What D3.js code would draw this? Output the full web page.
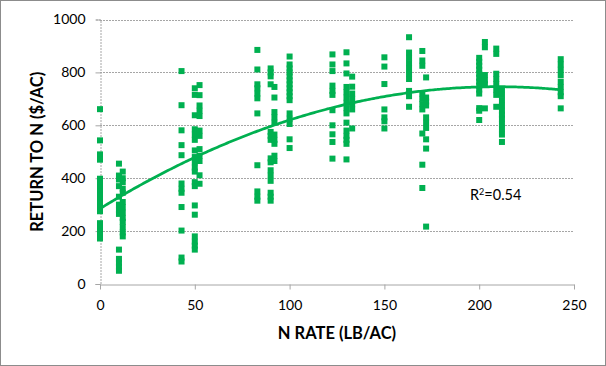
<!DOCTYPE html>
<html>
<head>
<meta charset="utf-8">
<script src="https://cdn.jsdelivr.net/npm/d3@7"></script>
<style>
  html, body { margin: 0; padding: 0; background: #fff; }
  svg { display: block; }
  text { font-family: Lato, "Open Sans", sans-serif; fill: #000; }
</style>
</head>
<body>
<svg id="chart" width="606" height="366"></svg>
<script>
// ---- Data ----
// N rate (lb/ac) for each column of points
const nRates = [0, 10, 12, 43, 50, 52.5, 83, 90, 92, 100, 122.6, 130, 133, 150, 163, 170, 172, 200, 203, 209, 212, 243];
// Return to N ($/ac) for each column
const returns = [
  [661, 543, 490, 470, 398, 380, 365, 350, 335, 320, 305, 290, 275, 230, 215, 200, 185, 172],
  [455, 410, 395, 370, 330, 300, 280, 265, 130, 95, 80, 65, 50],
  [425, 400, 385, 360, 345, 310, 290, 270, 250, 235, 215, 195, 180],
  [805, 676, 581, 525, 487, 380, 360, 345, 291, 202, 100, 85],
  [740, 715, 638, 585, 565, 545, 505, 480, 460, 440, 425, 385, 370, 297, 262, 180, 160, 145, 130],
  [752, 714, 675, 655, 635, 580, 560, 510, 485, 465, 411, 379],
  [885, 811, 755, 740, 720, 702, 645, 449, 350, 330, 315],
  [815, 800, 785, 755, 575, 560, 545, 475, 460, 430, 410, 390, 345, 330, 315],
  [745, 705, 650, 630, 610, 565, 545, 530, 485, 465],
  [860, 830, 815, 800, 785, 770, 755, 740, 725, 710, 695, 645, 625, 605, 547, 514],
  [868, 830, 805, 750, 730, 715, 657, 600, 566, 537, 474],
  [876, 834, 796, 745, 725, 705, 685, 665, 645, 610, 580, 560, 545, 530, 471],
  [784, 746, 720, 700, 680, 660, 588],
  [857, 822, 756, 660, 630, 615, 588],
  [933, 875, 855, 835, 815, 795, 775, 730, 710, 670],
  [881, 845, 825, 720, 700, 680, 660, 569, 451, 363],
  [781, 705, 690, 675, 630, 610, 590, 547, 512, 217],
  [855, 840, 825, 810, 795, 780, 765, 750, 735, 720, 665, 655, 620],
  [915, 895, 790, 770, 755, 664],
  [890, 870, 795, 775, 755, 735, 715, 670],
  [735, 715, 695, 675, 655, 640, 625, 605, 585, 565, 537],
  [850, 830, 810, 790, 765, 745, 725, 710, 664]
];
// Polynomial (order 2) trendline coefficients: y = c0 + c1*x + c2*x^2
const trendCoef = [285, 4.4, -0.0105];
const trendRange = [0, 243];
const xTicks = [0, 50, 100, 150, 200, 250];
const yTicks = [0, 200, 400, 600, 800, 1000];
const xTitle = "N RATE (LB/AC)";
const yTitle = "RETURN TO N ($/AC)";
const r2Label = "0.54";

// ---- Drawing ----
const svg = d3.select("#chart");
const W = 606, H = 366;
const plot = { left: 100, right: 574, top: 19.5, bottom: 284 };
const green = "#00b050";

svg.append("rect").attr("x", 0.5).attr("y", 0.5).attr("width", W - 1).attr("height", H - 1)
  .attr("fill", "#fff").attr("stroke", "#8c8c8c").attr("stroke-width", 1);

const x = d3.scaleLinear().domain([0, 250]).range([plot.left, plot.right]);
const y = d3.scaleLinear().domain([0, 1000]).range([plot.bottom, plot.top]);

// gridlines
svg.append("g").selectAll("line").data(yTicks.filter(d => d > 0)).join("line")
  .attr("x1", plot.left).attr("x2", plot.right)
  .attr("y1", d => Math.round(y(d)) + 0.5).attr("y2", d => Math.round(y(d)) + 0.5)
  .attr("stroke", "#a6a6a6").attr("stroke-width", 1).attr("stroke-dasharray", "2,1");

// y axis
const yAxis = svg.append("g").attr("transform", `translate(${plot.left + 0.5},0)`)
  .call(d3.axisLeft(y).tickValues(yTicks).tickSize(5).tickPadding(10).tickFormat(d3.format("d")));
yAxis.select(".domain").attr("stroke", "#a6a6a6").attr("stroke-dasharray", "2,1");
yAxis.selectAll(".tick line").attr("stroke", "#a6a6a6");
yAxis.selectAll("text").attr("font-size", 14).attr("fill", "#000").attr("font-family", "Lato");

// x axis
const xAxis = svg.append("g").attr("transform", `translate(0,${Math.round(plot.bottom) + 0.5})`)
  .call(d3.axisBottom(x).tickValues(xTicks).tickSize(5).tickPadding(11).tickSizeOuter(0).tickFormat(d3.format("d")));
xAxis.select(".domain").attr("stroke", "#a6a6a6");
xAxis.selectAll(".tick line").attr("stroke", "#a6a6a6");
xAxis.selectAll("text").attr("font-size", 14).attr("fill", "#000").attr("font-family", "Lato");

// points
const pts = [];
nRates.forEach((r, i) => returns[i].forEach(v => pts.push([r, v])));
svg.append("g").selectAll("rect").data(pts).join("rect")
  .attr("x", d => x(d[0]) - 3).attr("y", d => y(d[1]) - 3)
  .attr("width", 6).attr("height", 6)
  .attr("fill", green);

// trendline
const trendX = d3.range(trendRange[0], trendRange[1] + 0.001, 1);
const poly = t => trendCoef[0] + trendCoef[1] * t + trendCoef[2] * t * t;
svg.append("path").datum(trendX)
  .attr("d", d3.line().x(t => x(t)).y(t => y(poly(t))).curve(d3.curveMonotoneX))
  .attr("fill", "none").attr("stroke", green).attr("stroke-width", 2.75);

// R² label
const r2 = svg.append("text").attr("x", 470).attr("y", 200).attr("font-size", 14.5);
r2.append("tspan").text("R");
r2.append("tspan").attr("font-size", 9).attr("dy", -5).text("2");
r2.append("tspan").attr("dy", 5).text("=" + r2Label);

// axis titles
svg.append("text").attr("x", (plot.left + plot.right) / 2).attr("y", 339)
  .attr("text-anchor", "middle").attr("font-weight", "bold").attr("font-size", 16.5).text(xTitle);
svg.append("text").attr("transform", `translate(43,${(plot.top + plot.bottom) / 2}) rotate(-90)`)
  .attr("text-anchor", "middle").attr("font-weight", "bold").attr("font-size", 16.5).text(yTitle);
</script>
</body>
</html>
